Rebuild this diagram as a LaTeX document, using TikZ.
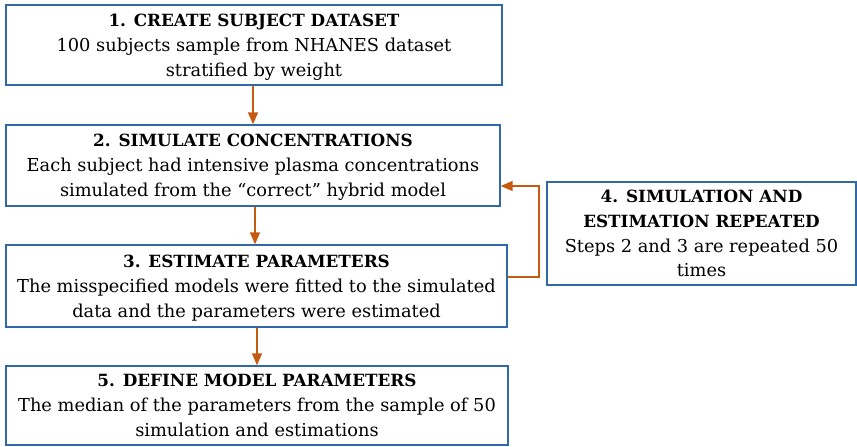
\documentclass[tikz,border=0pt]{standalone}
\usepackage{fontspec}
\setmainfont{DejaVu Serif}
\usetikzlibrary{arrows.meta}
\definecolor{boxblue}{RGB}{47,105,168}
\definecolor{arrorange}{RGB}{197,90,17}
\tikzset{
  stepbox/.style={draw=boxblue, line width=1.4pt, inner sep=0pt, align=center,
    font=\fontsize{17.8}{24.8}\selectfont, fill=white, text depth=0pt},
  arr/.style={draw=arrorange, line width=1.5pt,
    -{Triangle[length=12pt,width=10pt]}}
}
\newcommand{\ttltext}[1]{{\fontsize{16.8}{24.8}\selectfont\bfseries #1}}
\begin{document}
\begin{tikzpicture}[x=1pt,y=-1pt]
\useasboundingbox (0,0) rectangle (857,447);
\node[stepbox, minimum width=496pt, minimum height=80pt] (b1) at (254,45)
  {\ttltext{1. CREATE SUBJECT DATASET}\\100 subjects sample from NHANES dataset\\stratified by weight};
\node[stepbox, minimum width=494pt, minimum height=81pt] (b2) at (253,165.5)
  {\ttltext{2. SIMULATE CONCENTRATIONS}\\Each subject had intensive plasma concentrations\\simulated from the “correct” hybrid model};
\node[stepbox, minimum width=501pt, minimum height=82pt] (b3) at (256.5,286)
  {\ttltext{3. ESTIMATE PARAMETERS}\\The misspecified models were fitted to the simulated\\data and the parameters were estimated};
\node[stepbox, minimum width=309pt, minimum height=103pt] (b4) at (701.5,233.5)
  {\ttltext{4. SIMULATION AND}\\\ttltext{ESTIMATION REPEATED}\\Steps 2 and 3 are repeated 50\\times};
\node[stepbox, minimum width=502pt, minimum height=79pt] (b5) at (257,405.5)
  {\ttltext{5. DEFINE MODEL PARAMETERS}\\The median of the parameters from the sample of 50\\simulation and estimations};
\draw[arr] (b1.south -| 253,0) -- (b2.north -| 253,0);
\draw[arr] (b2.south -| 255,0) -- (b3.north -| 255,0);
\draw[arr] (b3.south -| 257,0) -- (b5.north -| 257,0);
\draw[arr] (b3.east |- 0,277) -- (539,277) -- (539,186) -- (b2.east |- 0,186);
\end{tikzpicture}
\end{document}
